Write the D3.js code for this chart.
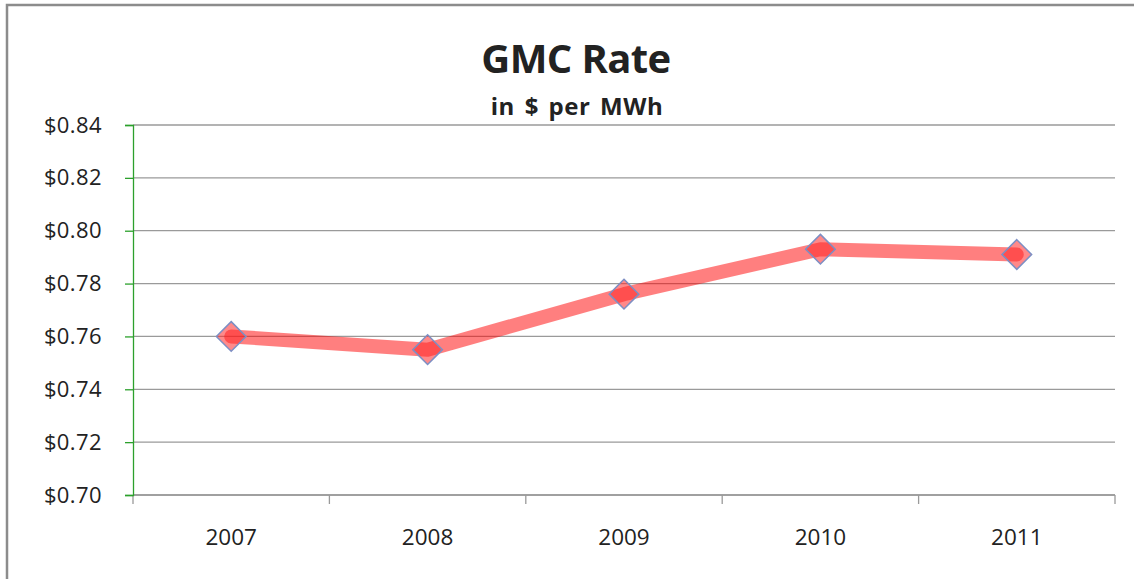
<!DOCTYPE html>
<html>
<head>
<meta charset="utf-8">
<script src="https://cdn.jsdelivr.net/npm/d3@7"></script>
<style>
  body { margin: 0; background: #fff; }
  text { font-family: "Open Sans", "Noto Sans", sans-serif; fill: #222; }
</style>
</head>
<body>
<div id="chart"></div>
<script>
// data
const years = ['2007', '2008', '2009', '2010', '2011'];
const rates = [0.760, 0.755, 0.776, 0.793, 0.791];
const yTicks = [0.70, 0.72, 0.74, 0.76, 0.78, 0.80, 0.82, 0.84];

const width = 1134;
const height = 579;
const margin = { top: 125, right: 19, bottom: 84, left: 133 };
const plotW = width - margin.left - margin.right;
const plotH = height - margin.top - margin.bottom;

const svg = d3.select('#chart')
    .append('svg')
    .attr('width', width)
    .attr('height', height);

// outer frame (only left and top edges show in the picture)
svg.append('path')
    .attr('d', `M7,${height} L7,5 L${width},5`)
    .attr('fill', 'none')
    .attr('stroke', '#8c8c8c')
    .attr('stroke-width', 2.5);

svg.append('text')
    .attr('x', 576)
    .attr('y', 73)
    .attr('text-anchor', 'middle')
    .style('font-size', '40px')
    .style('font-weight', 'bold')
    .style('letter-spacing', '-0.6px')
    .text('GMC Rate');

svg.append('text')
    .attr('x', 577)
    .attr('y', 115)
    .attr('text-anchor', 'middle')
    .style('font-size', '24px')
    .style('font-weight', 'bold')
    .style('letter-spacing', '0.5px')
    .style('word-spacing', '3px')
    .text('in $ per MWh');

const chart = svg.append('g')
    .attr('transform', `translate(${margin.left},${margin.top})`);

const xScale = d3.scaleBand()
    .domain(years)
    .range([0, plotW]);
const yScale = d3.scaleLinear()
    .domain([0.70, 0.84])
    .range([plotH, 0]);

// horizontal gridlines
chart.append('g')
    .selectAll('line')
    .data(yTicks)
    .enter()
    .append('line')
    .attr('x1', 0)
    .attr('x2', plotW)
    .attr('y1', d => yScale(d))
    .attr('y2', d => yScale(d))
    .attr('stroke', '#9a9a9a')
    .attr('stroke-width', 1.3);

// x axis: ticks at band edges
const xAxis = chart.append('g')
    .attr('transform', `translate(0,${plotH})`);
xAxis.append('line')
    .attr('x1', 0).attr('x2', plotW)
    .attr('stroke', '#9a9a9a').attr('stroke-width', 1.3);
xAxis.selectAll('.tick')
    .data(years.concat(['end']))
    .enter()
    .append('line')
    .attr('x1', (d, i) => i * xScale.step())
    .attr('x2', (d, i) => i * xScale.step())
    .attr('y1', 0)
    .attr('y2', 9)
    .attr('stroke', '#9a9a9a')
    .attr('stroke-width', 1.3);
xAxis.selectAll('.xlabel')
    .data(years)
    .enter()
    .append('text')
    .attr('x', d => xScale(d) + xScale.bandwidth() / 2)
    .attr('y', 50)
    .attr('text-anchor', 'middle')
    .style('font-size', '22.5px')
    .text(d => d);

// y axis (green)
const yAxis = d3.axisLeft(yScale)
    .tickValues(yTicks)
    .tickSize(8)
    .tickPadding(23)
    .tickFormat(d3.format('$.2f'));
const yG = chart.append('g').call(yAxis);
yG.select('.domain').attr('stroke', '#2ca02c').attr('stroke-width', 1.3);
yG.selectAll('.tick line').attr('stroke', '#2ca02c').attr('stroke-width', 1.3);
yG.selectAll('.tick text')
    .style('font-size', '22px')
    .style('letter-spacing', '0.4px')
    .style('font-family', '"Open Sans", "Noto Sans", sans-serif')
    .attr('fill', '#222');

// series
const line = d3.line()
    .x((d, i) => xScale(years[i]) + xScale.bandwidth() / 2)
    .y(d => yScale(d));

chart.append('path')
    .datum(rates)
    .attr('d', line)
    .attr('fill', 'none')
    .attr('stroke', 'rgba(255,0,0,0.5)')
    .attr('stroke-width', 14)
    .attr('stroke-linecap', 'round')
    .attr('stroke-linejoin', 'round');

const diamond = d3.symbol().type(d3.symbolDiamond2).size(560);
chart.selectAll('.marker')
    .data(rates)
    .enter()
    .append('path')
    .attr('transform', (d, i) =>
        `translate(${xScale(years[i]) + xScale.bandwidth() / 2},${yScale(d)})`)
    .attr('d', diamond)
    .attr('fill', 'rgba(255,40,40,0.55)')
    .attr('stroke', '#7d8fc4')
    .attr('stroke-width', 1.5);
</script>
</body>
</html>
